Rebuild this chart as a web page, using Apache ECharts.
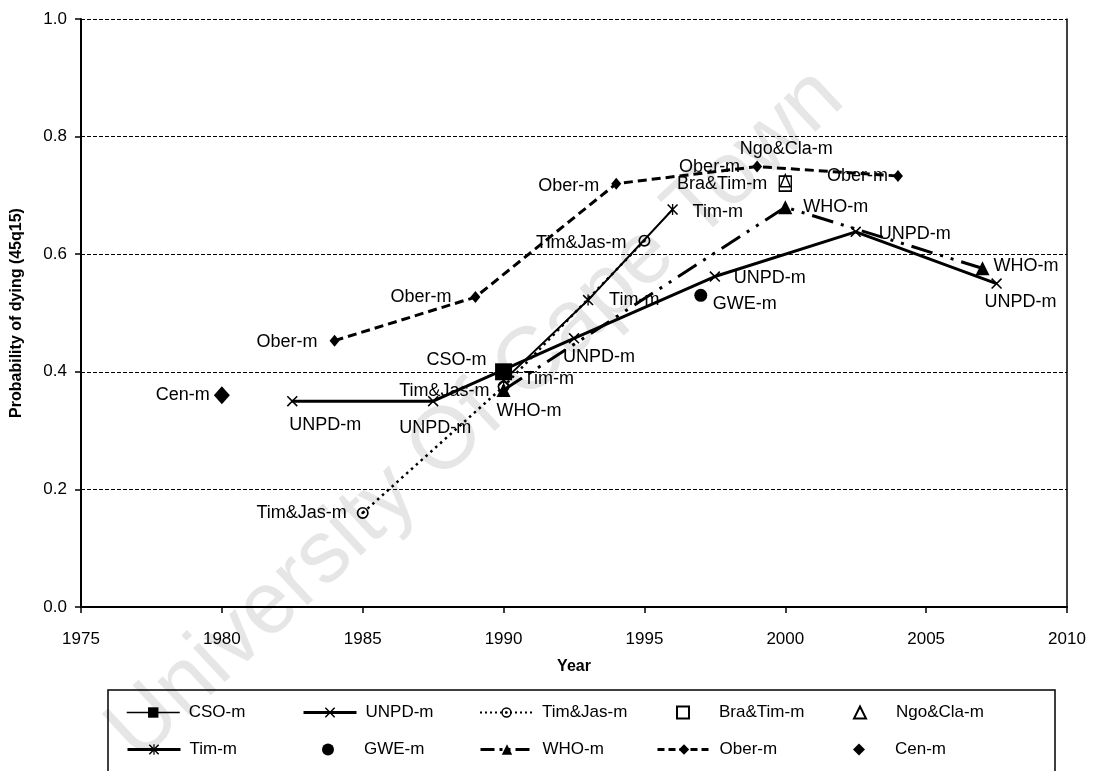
<!DOCTYPE html>
<html><head><meta charset="utf-8">
<script src="https://cdn.jsdelivr.net/npm/echarts@6/dist/echarts.min.js"></script>
<style>html,body{margin:0;padding:0;background:#fff}#c{width:1098px;height:771px}</style>
</head><body><div id="c"></div>
<script>
// ---------- data ----------
const xTicks = [1975, 1980, 1985, 1990, 1995, 2000, 2005, 2010];
const yTicks = [0, 0.2, 0.4, 0.6, 0.8, 1.0];
const csoYears = [1990];            const csoVals = [0.40];
const unpdYears = [1982.5, 1987.5, 1992.5, 1997.5, 2002.5, 2007.5];
const unpdVals  = [0.35, 0.35, 0.457, 0.562, 0.638, 0.55];
const timJasYears = [1985, 1990, 1995]; const timJasVals = [0.16, 0.375, 0.623];
const braTimYears = [2000];         const braTimVals = [0.72];
const ngoClaYears = [2000];         const ngoClaVals = [0.725];
const timYears = [1990, 1993, 1996];  const timVals = [0.385, 0.522, 0.676];
const gweYears = [1997];            const gweVals = [0.53];
const whoYears = [1990, 2000, 2007];  const whoVals = [0.369, 0.68, 0.576];
const oberYears = [1984, 1989, 1994, 1999, 2004];
const oberVals  = [0.453, 0.527, 0.72, 0.749, 0.733];
const cenYears = [1980];            const cenVals = [0.36];

// ---------- label placement (style) : [dx, dy, align] ----------
const labCSO = [[-17, -12, 'right']];
const labUNPD = [[-3, 24, 'left'], [2, 27, 'center'], [-11, 19, 'left'], [19, 1, 'left'], [23, 2, 'left'], [-12, 18, 'left']];
const labTimJas = [[-16, 0, 'right'], [-14, 5, 'right'], [-18, 2, 'right']];
const labBraTim = [[-18, 0, 'right']];
const labNgoCla = [[1, -32, 'center']];
const labTim = [[20, -2, 'left'], [21, 0, 'left'], [20, 3, 'left']];
const labGWE = [[12, 9, 'left']];
const labWHO = [[-7, 21, 'left'], [18, 0, 'left'], [11, -2, 'left']];
const labOber = [[-17, 1, 'right'], [-24, 0, 'right'], [-17, 2, 'right'], [-17, 0, 'right'], [-10, 0, 'right']];
const labCen = [[-12, 0, 'right']];

const FONT = '"Liberation Sans", Arial, sans-serif';
const X_SYM = 'path://M0,1L1,0L10,9L9,10ZM9,0L10,1L1,10L0,9Z';
const STAR_SYM = 'path://M0,1L1,0L10,9L9,10ZM9,0L10,1L1,10L0,9ZM4.4,0L5.6,0L5.6,10L4.4,10Z';
const RING_SYM = 'path://M0,5A5,5 0 1,0 10,5A5,5 0 1,0 0,5ZM1.4,5A3.6,3.6 0 1,1 8.6,5A3.6,3.6 0 1,1 1.4,5ZM3.8,5A1.2,1.2 0 1,0 6.2,5A1.2,1.2 0 1,0 3.8,5Z';

function pts(xs, ys, labs) {
  return xs.map((x, i) => ({
    value: [x, ys[i]],
    label: {show: true, position: 'inside', align: labs[i][2], verticalAlign: 'middle', offset: [labs[i][0], labs[i][1]]}
  }));
}
const labelBase = {show: true, formatter: '{a}', color: '#000', fontSize: 18, fontFamily: FONT};

const series = [
  {name: 'CSO-m', type: 'line', data: pts(csoYears, csoVals, labCSO), symbol: 'rect', symbolSize: 17,
   lineStyle: {color: '#000', width: 1.5}, itemStyle: {color: '#000'}, label: labelBase},
  {name: 'UNPD-m', type: 'line', data: pts(unpdYears, unpdVals, labUNPD), symbol: X_SYM, symbolSize: 11,
   lineStyle: {color: '#000', width: 3}, itemStyle: {color: '#000'}, label: labelBase},
  {name: 'Tim&Jas-m', type: 'line', data: pts(timJasYears, timJasVals, labTimJas), symbol: RING_SYM, symbolSize: 12,
   lineStyle: {color: '#000', width: 2.5, type: [2.5, 4]}, itemStyle: {color: '#000'}, label: labelBase},
  {name: 'Bra&Tim-m', type: 'scatter', data: pts(braTimYears, braTimVals, labBraTim), symbol: 'rect', symbolSize: [12, 15],
   itemStyle: {color: '#fff', borderColor: '#000', borderWidth: 1.5, opacity: 1}, label: labelBase},
  {name: 'Ngo&Cla-m', type: 'scatter', data: pts(ngoClaYears, ngoClaVals, labNgoCla), symbol: 'triangle', symbolSize: [10, 12],
   itemStyle: {color: '#fff', borderColor: '#000', borderWidth: 1.5, opacity: 1}, label: labelBase},
  {name: 'Tim-m', type: 'line', data: pts(timYears, timVals, labTim), symbol: STAR_SYM, symbolSize: 11,
   lineStyle: {color: '#000', width: 2}, itemStyle: {color: '#000'}, label: labelBase},
  {name: 'GWE-m', type: 'scatter', data: pts(gweYears, gweVals, labGWE), symbol: 'circle', symbolSize: 13,
   itemStyle: {color: '#000', opacity: 1}, label: labelBase},
  {name: 'WHO-m', type: 'line', data: pts(whoYears, whoVals, labWHO), symbol: 'triangle', symbolSize: 14,
   lineStyle: {color: '#000', width: 3, type: [22, 8, 3, 8, 3, 8]}, itemStyle: {color: '#000'}, label: labelBase},
  {name: 'Ober-m', type: 'line', data: pts(oberYears, oberVals, labOber), symbol: 'diamond', symbolSize: [10, 12],
   lineStyle: {color: '#000', width: 3, type: [9, 5]}, itemStyle: {color: '#000'}, label: labelBase},
  {name: 'Cen-m', type: 'scatter', data: pts(cenYears, cenVals, labCen), symbol: 'diamond', symbolSize: [16, 18],
   itemStyle: {color: '#000', opacity: 1}, label: labelBase}
];
series.forEach(s => { s.z = 3; s.silent = true; s.animation = false; if (s.type === 'line') s.showSymbol = true; });

// ---------- legend placement (style): [name, keyLeft, top, markerOnly, keyLineWidth, keyLineType] ----------
const legendSpec = [
  ['CSO-m', 126, 704, 0, 1.5, 'solid'], ['UNPD-m', 302, 704, 0, 3, 'solid'], ['Tim&Jas-m', 479, 704, 0, 2, [2, 3]],
  ['Bra&Tim-m', 656, 704, 1], ['Ngo&Cla-m', 833, 704, 1],
  ['Tim-m', 126, 741, 0, 3, 'solid'], ['GWE-m', 302, 741, 1], ['WHO-m', 479, 741, 0, 3, [14, 5, 3, 5, 3, 5]],
  ['Ober-m', 656, 741, 0, 3, [7, 4]], ['Cen-m', 833, 741, 1]
];
const legends = legendSpec.map(l => {
  const o = {
    data: [l[0]], left: l[3] ? l[1] + 20 : l[1], top: l[2],
    itemWidth: l[3] ? 12 : 53, itemHeight: l[3] ? 12 : 13, itemGap: 0, padding: 0,
    selectedMode: false,
    textStyle: {color: '#000', fontSize: 17, fontFamily: FONT, padding: [0, 0, 0, l[3] ? 25 : 4]}
  };
  if (!l[3]) o.lineStyle = {width: l[4], type: l[5], color: '#000'};
  return o;
});

const chart = echarts.init(document.getElementById('c'), null, {renderer: 'canvas'});
chart.setOption({
  animation: false,
  backgroundColor: '#fff',
  textStyle: {fontFamily: FONT},
  grid: {left: 81, right: 31, top: 19, bottom: 164, containLabel: false},
  xAxis: {
    type: 'value', min: xTicks[0], max: xTicks[xTicks.length - 1], interval: 5,
    name: 'Year', nameLocation: 'middle', nameGap: 52,
    nameTextStyle: {color: '#000', fontSize: 16, fontWeight: 'bold', fontFamily: FONT},
    axisLine: {show: true, lineStyle: {color: '#000', width: 2}},
    axisTick: {show: true, length: 6, lineStyle: {color: '#000', width: 1.5}},
    axisLabel: {color: '#000', fontSize: 17, margin: 24, fontFamily: FONT, formatter: v => String(v)},
    splitLine: {show: false}
  },
  yAxis: [{
    type: 'value', min: yTicks[0], max: yTicks[yTicks.length - 1], interval: 0.2,
    name: 'Probability of dying (45q15)', nameLocation: 'middle', nameGap: 56,
    nameTextStyle: {color: '#000', fontSize: 16, fontWeight: 'bold', fontFamily: FONT},
    axisLine: {show: true, lineStyle: {color: '#000', width: 2}},
    axisTick: {show: true, length: 6, lineStyle: {color: '#000', width: 1.5}},
    axisLabel: {color: '#000', fontSize: 17, margin: 14, fontFamily: FONT, formatter: v => v.toFixed(1)},
    splitLine: {show: true, lineStyle: {color: '#000', width: 1, type: [4, 2]}}
  }, {
    type: 'value', position: 'right', min: 0, max: 1, interval: 0.2,
    axisLine: {show: true, lineStyle: {color: '#000', width: 1.5}},
    axisTick: {show: false}, axisLabel: {show: false}, splitLine: {show: false}
  }],
  legend: legends,
  graphic: [
    {type: 'text', z: 0, x: 476, y: 415, rotation: 0.75,
     style: {text: 'University Of Cape Town', fill: '#e6e6e6', font: '88px "Liberation Sans", Arial, sans-serif',
       textAlign: 'center', textVerticalAlign: 'middle'}, silent: true},
    {type: 'rect', z: 1, shape: {x: 108, y: 690, width: 947, height: 100},
     style: {fill: 'none', stroke: '#000', lineWidth: 1.5}, silent: true}
  ],
  series: series
});
</script></body></html>
